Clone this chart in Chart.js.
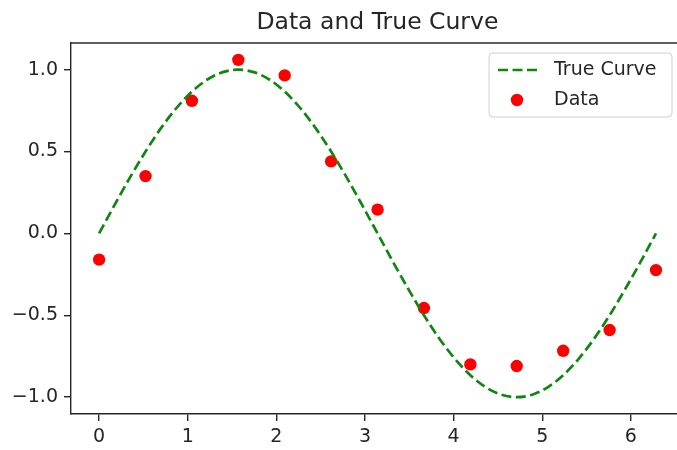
<!DOCTYPE html>
<html>
<head>
<meta charset="utf-8">
<script src="https://cdn.jsdelivr.net/npm/chart.js@4"></script>
<style>
  html, body { margin: 0; padding: 0; background: #fff; overflow: hidden; width: 677px; height: 450px; }
  #wrap { width: 677px; height: 450px; overflow: hidden; position: relative; }
  canvas { display: block; position: absolute; left: 0; top: 0; }
</style>
</head>
<body>
<div id="wrap"><canvas id="c" width="690" height="450"></canvas></div>
<script>
// ---- data ----
const TITLE = "Data and True Curve";
const CURVE_LABEL = "True Curve";
const DATA_LABEL = "Data";

const curveX = [0, 0.175, 0.349, 0.524, 0.698, 0.873, 1.047, 1.222, 1.396, 1.571, 1.745, 1.920, 2.094, 2.269, 2.443, 2.618, 2.793, 2.967, 3.142, 3.316, 3.491, 3.665, 3.840, 4.014, 4.189, 4.363, 4.538, 4.712, 4.887, 5.061, 5.236, 5.411, 5.585, 5.760, 5.934, 6.109, 6.283];
const curveY = [0, 0.174, 0.342, 0.5, 0.643, 0.766, 0.866, 0.940, 0.985, 1.0, 0.985, 0.940, 0.866, 0.766, 0.643, 0.5, 0.342, 0.174, 0, -0.174, -0.342, -0.5, -0.643, -0.766, -0.866, -0.940, -0.985, -1.0, -0.985, -0.940, -0.866, -0.766, -0.643, -0.5, -0.342, -0.174, 0];

const dataX = [0, 0.524, 1.047, 1.571, 2.094, 2.618, 3.142, 3.665, 4.189, 4.712, 5.236, 5.760, 6.283];
const dataY = [-0.16, 0.35, 0.81, 1.06, 0.965, 0.44, 0.145, -0.456, -0.80, -0.81, -0.717, -0.59, -0.224];

const xTicks = [0, 1, 2, 3, 4, 5, 6];
const yTicks = [-1.0, -0.5, 0.0, 0.5, 1.0];

// axis limits (matplotlib-style 5% margins; the right edge of the axes falls outside the 677px window)
const X_MIN = -0.317, X_MAX = 6.597;
const Y_MIN = -1.103, Y_MAX = 1.163;

const INK = '#262626';
const FONT = '"DejaVu Sans", "Liberation Sans", sans-serif';

const deco = {
  id: 'deco',
  afterDraw(chart) {
    const { ctx, chartArea: a } = chart;
    ctx.save();
    // top spine
    ctx.strokeStyle = INK; ctx.lineWidth = 1.4;
    ctx.beginPath(); ctx.moveTo(a.left, a.top); ctx.lineTo(a.right, a.top); ctx.stroke();
    // title centred over the axes
    ctx.fillStyle = INK;
    ctx.font = '23.5px ' + FONT;
    ctx.textAlign = 'center'; ctx.textBaseline = 'alphabetic';
    ctx.fillText(TITLE, (a.left + a.right) / 2, 29);
    // legend box
    const bx = 489, by = 53, bw = 183, bh = 64, r = 4;
    ctx.beginPath();
    ctx.moveTo(bx + r, by);
    ctx.arcTo(bx + bw, by, bx + bw, by + bh, r);
    ctx.arcTo(bx + bw, by + bh, bx, by + bh, r);
    ctx.arcTo(bx, by + bh, bx, by, r);
    ctx.arcTo(bx, by, bx + bw, by, r);
    ctx.closePath();
    ctx.fillStyle = 'rgba(255,255,255,0.8)'; ctx.fill();
    ctx.strokeStyle = '#d0d0d0'; ctx.lineWidth = 1; ctx.stroke();
    // legend entries
    const ds0 = chart.data.datasets[0], ds1 = chart.data.datasets[1];
    ctx.strokeStyle = ds0.borderColor; ctx.lineWidth = ds0.borderWidth;
    ctx.setLineDash(ds0.borderDash);
    ctx.beginPath(); ctx.moveTo(498, 70); ctx.lineTo(537, 70); ctx.stroke();
    ctx.setLineDash([]);
    ctx.fillStyle = ds1.backgroundColor;
    ctx.beginPath(); ctx.arc(517, 100, ds1.pointRadius, 0, Math.PI * 2); ctx.fill();
    ctx.fillStyle = INK;
    ctx.font = '19px ' + FONT;
    ctx.textAlign = 'left'; ctx.textBaseline = 'middle';
    ctx.fillText(ds0.label, 554, 70);
    ctx.fillText(ds1.label, 554, 100);
    ctx.restore();
  }
};

new Chart(document.getElementById('c'), {
  type: 'scatter',
  data: {
    datasets: [
      {
        type: 'line',
        label: CURVE_LABEL,
        data: curveX.map((v, i) => ({ x: v, y: curveY[i] })),
        borderColor: '#0f870f',
        backgroundColor: '#0f870f',
        borderWidth: 2.7,
        borderDash: [10, 4.5],
        pointRadius: 0,
        cubicInterpolationMode: 'monotone',
        fill: false,
        showLine: true
      },
      {
        label: DATA_LABEL,
        data: dataX.map((v, i) => ({ x: v, y: dataY[i] })),
        backgroundColor: '#ff0000',
        borderColor: '#ff0000',
        borderWidth: 0,
        pointRadius: 6.2
      }
    ]
  },
  options: {
    responsive: false,
    devicePixelRatio: 1,
    animation: false,
    events: [],
    layout: { padding: { top: 43, left: 0, right: 0, bottom: 0 } },
    plugins: { legend: { display: false }, title: { display: false }, tooltip: { enabled: false } },
    scales: {
      x: {
        type: 'linear',
        min: X_MIN, max: X_MAX,
        afterFit: s => { s.height = 36; },
        afterBuildTicks: s => { s.ticks = xTicks.map(v => ({ value: v })); },
        grid: { display: true, drawOnChartArea: false, drawTicks: true, tickLength: 7, color: INK, lineWidth: 1.4 },
        border: { display: true, color: INK, width: 1.4 },
        ticks: { color: INK, font: { family: FONT, size: 19 }, padding: 5, maxRotation: 0, autoSkip: false,
                 callback: v => String(v) }
      },
      y: {
        type: 'linear',
        min: Y_MIN, max: Y_MAX,
        afterFit: s => { s.width = 71; },
        afterBuildTicks: s => { s.ticks = yTicks.map(v => ({ value: v })); },
        grid: { display: true, drawOnChartArea: false, drawTicks: true, tickLength: 7, color: INK, lineWidth: 1.4 },
        border: { display: true, color: INK, width: 1.4 },
        ticks: { color: INK, font: { family: FONT, size: 19 }, padding: 6, autoSkip: false,
                 callback: v => (v < 0 ? '\u2212' : '') + Math.abs(v).toFixed(1) }
      }
    }
  },
  plugins: [deco]
});
</script>
</body>
</html>
